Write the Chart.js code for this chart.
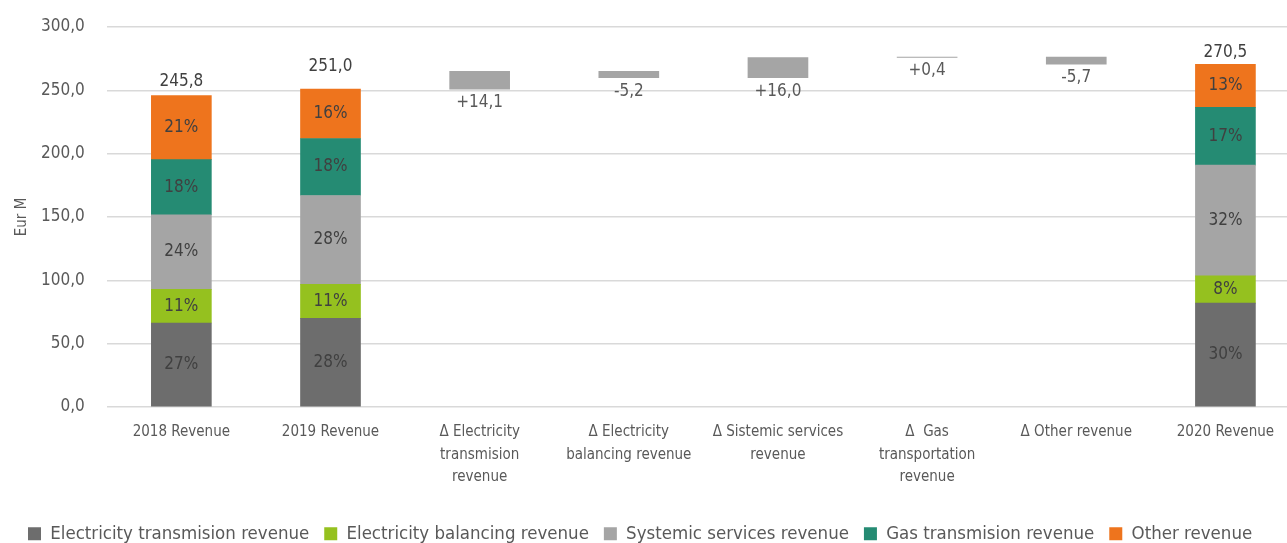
<!DOCTYPE html>
<html>
<head>
<meta charset="utf-8">
<script src="https://cdn.jsdelivr.net/npm/chart.js@4/dist/chart.umd.min.js"></script>
<style>
  html, body { margin: 0; padding: 0; background: #fff; overflow: hidden; }
  #wrap { width: 1300px; height: 543px; position: relative; }
</style>
</head>
<body>
<div id="wrap"><canvas id="grafico"></canvas></div>
<script>
const categorias = [
    '2018 Revenue',
    '2019 Revenue',
    ['Δ Electricity', 'transmision', 'revenue'],
    ['Δ Electricity', 'balancing revenue'],
    ['Δ Sistemic services', 'revenue'],
    ['Δ  Gas', 'transportation', 'revenue'],
    'Δ Other revenue',
    '2020 Revenue'
];

const series = [
    'Electricity transmision revenue',
    'Electricity balancing revenue',
    'Systemic services revenue',
    'Gas transmision revenue',
    'Other revenue'
];
const colores = ['#6d6d6d', '#95c11f', '#a5a5a5', '#258b73', '#ee741d'];

// Eur M per revenue bar (2018, 2019, 2020); null where the waterfall steps are
const electricidadTransmision = [66.3, 70.0, null, null, null, null, null, 82.0];
const electricidadBalance     = [26.6, 26.8, null, null, null, null, null, 21.5];
const serviciosSistema        = [58.9, 70.2, null, null, null, null, null, 87.5];
const gasTransmision          = [43.5, 45.0, null, null, null, null, null, 45.5];
const otrosIngresos           = [50.5, 39.0, null, null, null, null, null, 34.0];

// variations between 2019 and 2020
const variaciones = [14.1, -5.2, 16.0, 0.4, -5.7];

const ticksY = [0, 50, 100, 150, 200, 250, 300];

const valoresSeries = [electricidadTransmision, electricidadBalance, serviciosSistema, gasTransmision, otrosIngresos];

const coma = v => v.toFixed(1).replace('.', ',');

const totales = categorias.map((_, i) => {
    if (electricidadTransmision[i] === null) return null;
    return valoresSeries.reduce((s, arr) => s + arr[i], 0);
});

// floating bars for the waterfall, starting from the 2019 total
let acumulado = totales[1];
const cascada = [null, null];
variaciones.forEach(d => {
    cascada.push([acumulado, acumulado + d]);
    acumulado += d;
});
cascada.push(null);

const fuente = "'Liberation Sans Narrow', 'DejaVu Sans Condensed', sans-serif";
const gris = '#595959';

// gap (px) between bar top and its total label, like in the original
const separacionTotal = { 0: 6, 1: 14, 7: 3 };

const etiquetas = {
    id: 'etiquetas',
    afterDatasetsDraw(chart) {
        const ctx = chart.ctx;
        const y = chart.scales.y;
        ctx.save();
        ctx.textAlign = 'center';
        ctx.font = '17px ' + fuente;

        // percentages inside the segments
        ctx.fillStyle = '#404040';
        ctx.textBaseline = 'middle';
        valoresSeries.forEach((arr, d) => {
            const meta = chart.getDatasetMeta(d + 1);
            meta.data.forEach((barra, i) => {
                if (arr[i] === null) return;
                const pct = Math.round(arr[i] / totales[i] * 100) + '%';
                ctx.fillText(pct, barra.x, (barra.y + barra.base) / 2);
            });
        });

        // totals above the revenue bars
        ctx.fillStyle = '#404040';
        ctx.textBaseline = 'bottom';
        const metaTop = chart.getDatasetMeta(5);
        totales.forEach((t, i) => {
            if (t === null) return;
            ctx.fillText(coma(t), metaTop.data[i].x, y.getPixelForValue(t) - (separacionTotal[i] || 6));
        });

        // variations below the waterfall steps
        ctx.fillStyle = gris;
        ctx.textBaseline = 'top';
        const metaCascada = chart.getDatasetMeta(0);
        cascada.forEach((c, i) => {
            if (!c) return;
            const d = variaciones[i - 2];
            const texto = (d > 0 ? '+' : '') + coma(d);
            ctx.fillText(texto, metaCascada.data[i].x, y.getPixelForValue(Math.min(c[0], c[1])) + 5);
        });
        ctx.restore();
    }
};

const datasets = [{
    label: 'variacion',
    data: cascada,
    backgroundColor: '#a5a5a5',
    stack: 'cascada',
    grouped: false,
    barThickness: 60
}];
valoresSeries.forEach((arr, d) => {
    datasets.push({
        label: series[d],
        data: arr,
        backgroundColor: colores[d],
        stack: 'ingresos',
        grouped: false,
        barThickness: 60
    });
});

new Chart(document.getElementById('grafico'), {
    type: 'bar',
    data: { labels: categorias, datasets: datasets },
    plugins: [etiquetas],
    options: {
        responsive: true,
        maintainAspectRatio: false,
        animation: false,
        layout: { padding: { top: 27, left: 13, right: 0, bottom: -10 } },
        plugins: {
            tooltip: { enabled: false },
            legend: {
                position: 'bottom',
                align: 'start',
                labels: {
                    filter: item => item.datasetIndex > 0,
                    boxWidth: 13,
                    boxHeight: 13,
                    padding: 15,
                    color: gris,
                    font: { family: fuente, size: 18.5 }
                }
            }
        },
        scales: {
            x: {
                stacked: true,
                grid: { display: false },
                border: { display: false },
                afterFit: axis => { axis.height += 15; },
                ticks: {
                    color: gris,
                    font: { family: fuente, size: 15, lineHeight: 1.5 },
                    maxRotation: 0,
                    autoSkip: false,
                    padding: 6
                }
            },
            y: {
                stacked: true,
                min: 0,
                max: 300,
                afterBuildTicks: axis => { axis.ticks = ticksY.map(v => ({ value: v })); },
                afterFit: axis => { axis.paddingTop = 0; },
                grid: { color: '#d9d9d9', lineWidth: 1.5, drawTicks: false },
                border: { display: false },
                title: {
                    display: true,
                    text: 'Eur M',
                    color: gris,
                    font: { family: fuente, size: 15 },
                    padding: { top: 0, bottom: -12 }
                },
                ticks: {
                    color: gris,
                    font: { family: fuente, size: 17 },
                    padding: 22,
                    callback: v => coma(v)
                }
            }
        }
    }
});
</script>
</body>
</html>
